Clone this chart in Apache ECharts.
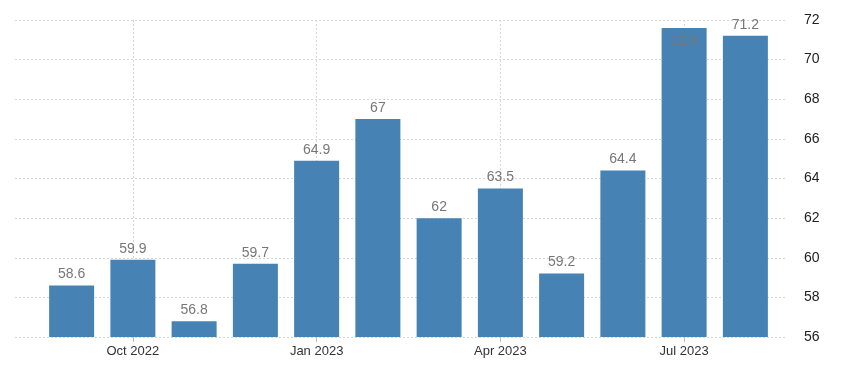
<!DOCTYPE html>
<html><head><meta charset="utf-8">
<style>html,body{margin:0;padding:0;background:#fff}#c{width:841px;height:368px}</style>
<script src="https://cdn.jsdelivr.net/npm/echarts@6/dist/echarts.min.js"></script>
</head><body><div id="c"></div>
<script>
const categories = ['Sep 2022','Oct 2022','Nov 2022','Dec 2022','Jan 2023','Feb 2023','Mar 2023','Apr 2023','May 2023','Jun 2023','Jul 2023','Aug 2023'];
const values = [58.6, 59.9, 56.8, 59.7, 64.9, 67, 62, 63.5, 59.2, 64.4, 71.6, 71.2];
const shownLabels = ['Oct 2022','Jan 2023','Apr 2023','Jul 2023'];
const yMin = 56, yMax = 72, yStep = 2;

const chart = echarts.init(document.getElementById('c'), null, {renderer:'canvas'});
const showIdx = (i, v) => shownLabels.indexOf(categories[i]) >= 0;
const gridLine = {color:'#d6d6d6', type:[2,2], width:1};
const option = {
  animation:false,
  grid:[
    {left:15, right:56, top:20, bottom:31},
    {left:41, right:65, top:20, bottom:31}
  ],
  xAxis:[
    {gridIndex:0, type:'value', min:0, max:1, show:false},
    {gridIndex:1, type:'category', data:categories, boundaryGap:true,
     axisLine:{show:false},
     axisTick:{show:true, alignWithLabel:true, interval:showIdx, length:5, lineStyle:{color:'#bbb'}},
     axisLabel:{interval:showIdx, color:'#333', fontSize:13, fontFamily:'Liberation Sans', margin:8},
     splitLine:{show:true, alignWithLabel:true, interval:showIdx, lineStyle:gridLine}}
  ],
  yAxis:[
    {gridIndex:0, type:'value', position:'right', min:yMin, max:yMax, interval:yStep,
     axisLine:{show:false}, axisTick:{show:false},
     axisLabel:{color:'#222', fontSize:14, fontFamily:'Liberation Sans', margin:19},
     splitLine:{show:true, lineStyle:gridLine}},
    {gridIndex:1, type:'value', min:yMin, max:yMax, interval:yStep, show:false, splitLine:{show:false}}
  ],
  series:[{
    type:'bar', xAxisIndex:1, yAxisIndex:1, barWidth:45,
    itemStyle:{color:'#4682b4'},
    label:{show:true, position:'top', distance:4, color:'#777', fontSize:14, fontFamily:'Liberation Sans'},
    data: values.map((v,i) => v >= yMax - 0.5
      ? {value:v, label:{position:'insideTop', distance:6, color:'#777'}}
      : v)
  }]
};
chart.setOption(option);
</script></body></html>
